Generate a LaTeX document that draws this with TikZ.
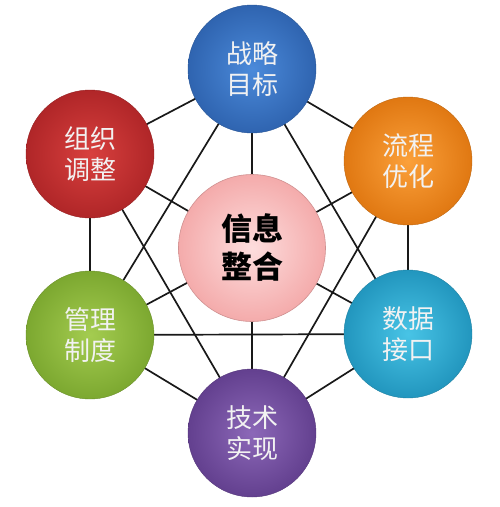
\documentclass[tikz,border=0pt]{standalone}
\usepackage{fontspec}
\newfontfamily\cjk{Noto Sans CJK SC}
\definecolor{blueA}{HTML}{4B8ADA}\definecolor{blueB}{HTML}{2F64B0}
\definecolor{redA}{HTML}{D8403E}\definecolor{redB}{HTML}{B02628}
\definecolor{orA}{HTML}{FBA03A}\definecolor{orB}{HTML}{E07812}
\definecolor{pinkA}{HTML}{FDDDDD}\definecolor{pinkB}{HTML}{F4ABAB}
\definecolor{grA}{HTML}{A4CC50}\definecolor{grB}{HTML}{7CA830}
\definecolor{cyA}{HTML}{48C4E6}\definecolor{cyB}{HTML}{2296BE}
\definecolor{puA}{HTML}{8C68B8}\definecolor{puB}{HTML}{63408F}
\tikzset{
  ball/.style={circle, minimum size=128pt, inner sep=0pt, align=center,
    font=\cjk\fontsize{26}{31}\selectfont, text=white!95!black},
  hub/.style={circle, minimum size=147pt, inner sep=0pt, align=center,
    font=\cjk\bfseries\fontsize{31}{38}\selectfont, text=black,
    shade, inner color=pinkA, outer color=pinkB, draw=pinkB!85!black, line width=0.6pt},
  link/.style={draw=black!90, line width=1.7pt}
}
\begin{document}
\begin{tikzpicture}[x=1pt,y=-1pt]
\useasboundingbox (0,0) rectangle (500,507);
\coordinate (cT) at (252,69);
\coordinate (cR) at (90,154);
\coordinate (cO) at (408,161);
\coordinate (cG) at (90,335);
\coordinate (cC) at (408,334);
\coordinate (cP) at (252,433);
\coordinate (cM) at (252,248);
% connectors
\draw[link] (cT) -- (cR);
\draw[link] (cT) -- (cO);
\draw[link] (cR) -- (cG);
\draw[link] (cO) -- (cC);
\draw[link] (cG) -- (cP);
\draw[link] (cC) -- (cP);
\draw[link] (cG) -- (cC);
\draw[link] (cT) -- (cG);
\draw[link] (cT) -- (cC);
\draw[link] (cR) -- (cP);
\draw[link] (cO) -- (cP);
\draw[link] (cT) -- (cM);
\draw[link] (cP) -- (cM);
\draw[link] (cR) -- (cM);
\draw[link] (cO) -- (cM);
\draw[link] (cG) -- (cM);
\draw[link] (cC) -- (cM);
% nodes
\node[ball, shade, inner color=blueA, outer color=blueB, draw=blueB!85!black] (T) at (cT) {战略\\目标};
\node[ball, shade, inner color=redA, outer color=redB, draw=redB!85!black] (R) at (cR) {组织\\调整};
\node[ball, shade, inner color=orA, outer color=orB, draw=orB!85!black] (O) at (cO) {流程\\优化};
\node[ball, shade, inner color=grA, outer color=grB, draw=grB!85!black] (G) at (cG) {管理\\制度};
\node[ball, shade, inner color=cyA, outer color=cyB, draw=cyB!85!black] (C) at (cC) {数据\\接口};
\node[ball, shade, inner color=puA, outer color=puB, draw=puB!85!black] (P) at (cP) {技术\\实现};
\node[hub] (M) at (cM) {信息\\整合};
\end{tikzpicture}
\end{document}
